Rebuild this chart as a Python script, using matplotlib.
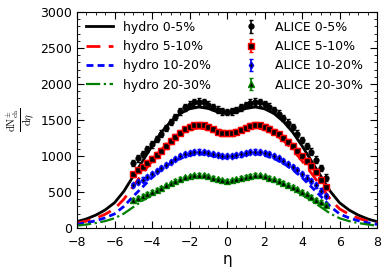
import matplotlib
matplotlib.use("Agg")
import matplotlib.pyplot as plt
from matplotlib.ticker import AutoMinorLocator

plt.rcParams["mathtext.fontset"] = "cm"

# hydro curves, eta from -8 to 8 in steps of 0.5
eta_hydro = [-8.0, -7.5, -7.0, -6.5, -6.0, -5.5, -5.0, -4.5, -4.0, -3.5, -3.0,
             -2.5, -2.0, -1.5, -1.0, -0.5, 0.0, 0.5, 1.0, 1.5, 2.0, 2.5, 3.0,
             3.5, 4.0, 4.5, 5.0, 5.5, 6.0, 6.5, 7.0, 7.5, 8.0]
hydro_0_5 = [88, 125, 178, 250, 350, 510, 720, 930, 1140, 1330, 1480, 1590, 1655,
             1680, 1660, 1610, 1585, 1610, 1660, 1680, 1655, 1590, 1480, 1330,
             1140, 930, 720, 510, 350, 250, 178, 125, 88]
hydro_5_10 = [68, 95, 135, 190, 265, 400, 580, 760, 930, 1090, 1215, 1310, 1370,
              1390, 1370, 1325, 1300, 1325, 1370, 1390, 1370, 1310, 1215, 1090,
              930, 760, 580, 400, 265, 190, 135, 95, 68]
hydro_10_20 = [50, 72, 100, 140, 195, 300, 440, 570, 700, 810, 900, 965, 1010,
               1030, 1015, 985, 970, 985, 1015, 1030, 1010, 965, 900, 810, 700,
               570, 440, 300, 195, 140, 100, 72, 50]
hydro_20_30 = [32, 48, 68, 95, 135, 200, 290, 380, 460, 540, 605, 655, 690, 705,
               695, 665, 650, 665, 695, 705, 690, 655, 605, 540, 460, 380, 290,
               200, 135, 95, 68, 48, 32]

# ALICE data, eta from -5 to 5.25 in steps of 0.25
eta_alice = [-5.0, -4.75, -4.5, -4.25, -4.0, -3.75, -3.5, -3.25, -3.0, -2.75,
             -2.5, -2.25, -2.0, -1.75, -1.5, -1.25, -1.0, -0.75, -0.5, -0.25,
             0.0, 0.25, 0.5, 0.75, 1.0, 1.25, 1.5, 1.75, 2.0, 2.25, 2.5, 2.75,
             3.0, 3.25, 3.5, 3.75, 4.0, 4.25, 4.5, 4.75, 5.0, 5.25]
alice_0_5 = [900, 965, 1030, 1095, 1160, 1235, 1310, 1390, 1470, 1545, 1620,
             1675, 1715, 1745, 1755, 1745, 1715, 1680, 1645, 1620, 1612, 1618,
             1640, 1675, 1710, 1740, 1755, 1745, 1720, 1685, 1640, 1590, 1530,
             1465, 1400, 1310, 1220, 1140, 1060, 950, 830, 700]
alice_5_10 = [745, 800, 850, 905, 960, 1015, 1075, 1140, 1205, 1265, 1325, 1370,
              1400, 1425, 1432, 1425, 1400, 1370, 1340, 1320, 1315, 1320, 1338,
              1365, 1395, 1420, 1432, 1425, 1405, 1375, 1340, 1300, 1250, 1195,
              1140, 1070, 995, 930, 860, 775, 670, 565]
alice_10_20 = [597, 635, 672, 710, 748, 790, 830, 872, 915, 955, 995, 1022, 1042,
               1056, 1060, 1055, 1040, 1025, 1010, 1002, 1000, 1002, 1010, 1022,
               1038, 1052, 1060, 1055, 1042, 1022, 995, 965, 930, 890, 850, 800,
               750, 700, 650, 590, 520, 445]
alice_20_30 = [390, 418, 445, 472, 500, 530, 560, 590, 622, 652, 680, 702, 718,
               730, 735, 730, 715, 695, 677, 663, 657, 662, 675, 693, 713, 728,
               735, 730, 718, 700, 678, 655, 628, 600, 570, 535, 500, 465, 430,
               395, 360, 320]
alice_err = [45, 38, 30, 22]

labels = ["0-5%", "5-10%", "10-20%", "20-30%"]
colors = ["black", "red", "blue", "green"]
styles = ["-", (0, (5, 3)), (0, (2.5, 1.5)), "-."]
markers = ["o", "s", "d", "^"]
msizes = [3.5, 4.2, 3.5, 3.8]

fig = plt.figure(figsize=(3.84, 2.73), dpi=100)
ax = fig.add_axes([0.2005, 0.165, 0.7815, 0.791])

hydro = [hydro_0_5, hydro_5_10, hydro_10_20, hydro_20_30]
alice = [alice_0_5, alice_5_10, alice_10_20, alice_20_30]

for i in range(4):
    ax.plot(eta_hydro, hydro[i], color=colors[i], linestyle=styles[i],
            linewidth=2 if i < 3 else 1.6, label="hydro " + labels[i])
for i in range(4):
    ax.errorbar(eta_alice, alice[i], yerr=alice_err[i], fmt=markers[i],
                color=colors[i], mfc="black", mec=colors[i], ms=msizes[i],
                mew=1.0, elinewidth=1.2, capsize=1.2, capthick=1.0,
                label="ALICE " + labels[i])

ax.set_xlim(-8, 8)
ax.set_ylim(0, 3000)
ax.set_xticks([-8, -6, -4, -2, 0, 2, 4, 6, 8])
ax.set_yticks([0, 500, 1000, 1500, 2000, 2500, 3000])
ax.xaxis.set_minor_locator(AutoMinorLocator(4))
ax.yaxis.set_minor_locator(AutoMinorLocator(5))
ax.tick_params(which="both", direction="in", top=True, right=True, labelsize=9)
ax.tick_params(which="major", length=5)
ax.tick_params(which="minor", length=2.5)
ax.tick_params(axis="x", pad=6)
ax.set_xlabel("η", fontsize=11, labelpad=2)
ax.set_ylabel(r"$\frac{\mathrm{dN}_{\mathrm{ch}}^{\pm}}{\mathrm{d}\eta}$",
              fontsize=11, labelpad=2)

ax.legend(ncol=2, loc="upper left", frameon=False, fontsize=9,
          handlelength=2.2, columnspacing=2.1, borderaxespad=0.3)

fig.savefig("out.png", dpi=100)
